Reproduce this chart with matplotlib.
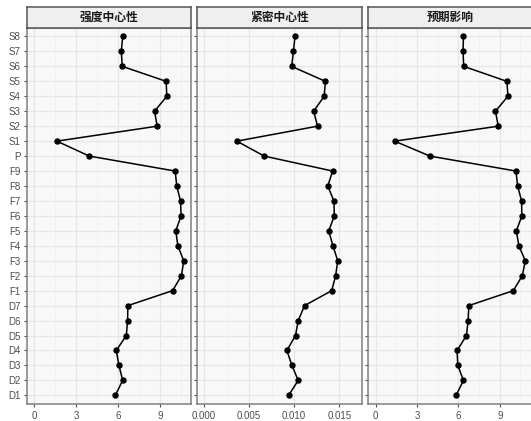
import numpy as np
import matplotlib
matplotlib.use("Agg")
import matplotlib.pyplot as plt

plt.rcParams['font.family'] = ['Liberation Sans', 'Noto Sans CJK SC', 'DejaVu Sans']

nodes = ['D1', 'D2', 'D3', 'D4', 'D5', 'D6', 'D7',
         'F1', 'F2', 'F3', 'F4', 'F5', 'F6', 'F7', 'F8', 'F9',
         'P', 'S1', 'S2', 'S3', 'S4', 'S5', 'S6', 'S7', 'S8']

strength = [5.81, 6.34, 6.07, 5.88, 6.60, 6.69, 6.71,
            9.91, 10.55, 10.71, 10.29, 10.14, 10.52, 10.48, 10.21, 10.10,
            3.95, 1.62, 8.81, 8.62, 9.50, 9.45, 6.31, 6.24, 6.34]

closeness = [0.00939, 0.01045, 0.00975, 0.00919, 0.01015, 0.01045, 0.01115,
             0.01416, 0.01460, 0.01483, 0.01430, 0.01383, 0.01446, 0.01440, 0.01373, 0.01426,
             0.00668, 0.00364, 0.01259, 0.01216, 0.01333, 0.01346, 0.00972, 0.00992, 0.01009]

expected = [5.83, 6.36, 5.95, 5.90, 6.58, 6.70, 6.75,
            9.98, 10.63, 10.85, 10.38, 10.20, 10.60, 10.58, 10.29, 10.17,
            3.93, 1.37, 8.89, 8.68, 9.59, 9.51, 6.38, 6.33, 6.36]

titles = ['强度中心性', '紧密中心性', '预期影响']
series = [strength, closeness, expected]
xticks = [[0, 3, 6, 9], [0, 0.005, 0.010, 0.015], [0, 3, 6, 9]]
xticklabels = [['0', '3', '6', '9'], ['0.000', '0.005', '0.010', '0.015'], ['0', '3', '6', '9']]

W, H = 531, 421
fig = plt.figure(figsize=(W / 100, H / 100), dpi=100)
fig.patch.set_facecolor('white')

lefts = [26.7, 197.3, 368.3]
pw = 164.5
top, bottom = 27.5, 404.3
strip_top = 7.0

y = np.arange(len(nodes))

for i in range(3):
    vals = np.array(series[i])
    ax = fig.add_axes([lefts[i] / W, (H - bottom) / H, pw / W, (bottom - top) / H])
    ax.set_facecolor('#F8F8F8')
    hi = vals.max()
    ax.set_xlim(-0.05 * hi, 1.05 * hi)
    ax.set_ylim(-0.6, len(nodes) - 0.4)

    step = xticks[i][1] - xticks[i][0]
    minor = [t + step / 2 for t in xticks[i]]
    ax.set_xticks(xticks[i])
    ax.set_xticklabels(xticklabels[i])
    ax.set_xticks(minor, minor=True)
    ax.set_yticks(y)
    if i == 0:
        ax.set_yticklabels(nodes)
    else:
        ax.set_yticklabels([])
        ax.tick_params(axis='y', length=0)

    ax.grid(True, which='major', color='#E6E6E6', linewidth=0.9)
    ax.grid(True, which='minor', axis='x', color='#EEEEEE', linewidth=0.5)
    ax.set_axisbelow(True)
    ax.tick_params(axis='both', which='major', labelsize=7, labelcolor='#4D4D4D',
                   color='#4D4D4D', length=2.5, width=0.8, pad=2)
    ax.tick_params(axis='x', which='minor', length=0)
    for s in ax.spines.values():
        s.set_color('#7F7F7F')
        s.set_linewidth(1.1)

    ax.plot(vals, y, color='black', linewidth=1.1, marker='o', markersize=3.6, zorder=3)

    sax = fig.add_axes([lefts[i] / W, (H - top) / H, pw / W, (top - strip_top) / H])
    sax.set_facecolor('#EFEFEF')
    sax.set_xticks([])
    sax.set_yticks([])
    for s in sax.spines.values():
        s.set_color('#555555')
        s.set_linewidth(1.1)
    sax.text(0.5, 0.48, titles[i], ha='center', va='center', fontsize=8.5,
             fontweight='bold', color='#1A1A1A', family=['Noto Sans CJK SC', 'DejaVu Sans'],
             transform=sax.transAxes)

fig.savefig('out.png', dpi=100)
